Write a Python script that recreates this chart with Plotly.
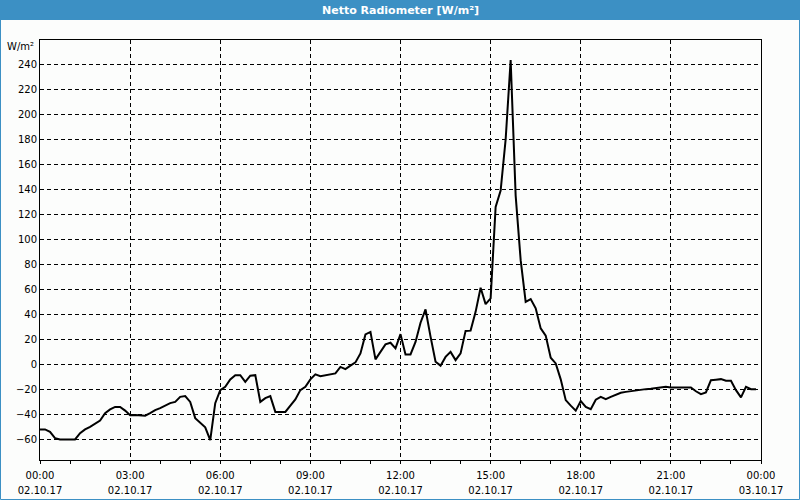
import plotly.graph_objects as go

# ---- data ----
day = "2017-10-02"
step_minutes = 10
values = [
    -52, -52, -54, -59, -60, -60, -60, -60, -55, -52,
    -50, -47.5, -45, -39, -36, -34, -34, -37, -40.6, -40.5,
    -41, -41, -39, -36.6, -35, -33, -31, -30, -26, -25.4,
    -30, -43, -47, -50.4, -60.6, -31, -20.6, -18, -12, -8.6,
    -8.6, -14, -9, -8.6, -30, -27, -25.4, -38, -38, -38,
    -33, -28, -20.6, -18, -12, -8, -9.4, -8.6, -8, -7.2,
    -2, -3.8, -1, 1.6, 8.8, 24, 26, 4, 10, 16,
    17.3, 12.8, 24.2, 8, 8, 18, 33.3, 44, 22.2, 2.1,
    -1, 6, 10, 3.4, 8.8, 26.8, 27, 42, 61.3, 48.2,
    52.8, 126, 139, 180, 243.4, 135, 83.4, 50, 52.2, 44.8,
    28.8, 23, 5.3, 0.8, -12, -28.6, -33, -37, -29.4, -34,
    -35.8, -28.3, -26, -27.8, -26, -24.5, -22.7, -22, -21.4, -20.8,
    -20, -19.8, -19.5, -19, -18.4, -17.9, -18.4, -18.4, -18.4, -17.9,
    -18.5, -21.5, -23.8, -22.4, -12.6, -12.2, -11.8, -13.1, -13.1, -20.6,
    -26.4, -17.9, -19.8, -19.8,
]
times = [f"{day} {(i*step_minutes)//60:02d}:{(i*step_minutes)%60:02d}" for i in range(len(values))]

tick_vals = ["2017-10-02 00:00", "2017-10-02 03:00", "2017-10-02 06:00", "2017-10-02 09:00",
             "2017-10-02 12:00", "2017-10-02 15:00", "2017-10-02 18:00", "2017-10-02 21:00",
             "2017-10-03 00:00"]
tick_time_text = ["00:00", "03:00", "06:00", "09:00", "12:00", "15:00", "18:00", "21:00", "00:00"]
tick_date_text = ["02.10.17", "02.10.17", "02.10.17", "02.10.17", "02.10.17",
                  "02.10.17", "02.10.17", "02.10.17", "03.10.17"]
y_ticks = list(range(-60, 241, 20))
x_range = ["2017-10-02 00:00", "2017-10-03 00:00"]

title_text = "Netto Radiometer [W/m²]"
unit_text = "W/m²"

# ---- figure ----
BLUE = "#3C90C4"
W, H = 800, 500
ML, MR, MT, MB = 40, 39, 40, 40
PW, PH = W - ML - MR, H - MT - MB

fig = go.Figure()
fig.add_trace(go.Scatter(x=times, y=values, mode="lines",
                         line=dict(color="black", width=2), hoverinfo="skip"))
# empty traces for the two label rows
for ax in ("x2", "x3"):
    fig.add_trace(go.Scatter(x=[x_range[0]], y=[None], xaxis=ax, mode="lines",
                             showlegend=False, hoverinfo="skip"))

font = dict(family="DejaVu Sans", size=10, color="black")

label_axis = dict(type="date", range=x_range, overlaying="x", side="bottom", anchor="y",
                  tickmode="array", tickvals=tick_vals, ticks="", automargin=False,
                  showgrid=False, showline=False, zeroline=False, tickfont=font)

fig.update_layout(
    width=W, height=H,
    margin=dict(l=ML, r=MR, t=MT, b=MB, pad=0, autoexpand=False),
    paper_bgcolor="#FCFDFC", plot_bgcolor="#FCFDFC",
    showlegend=False,
    font=font,
    xaxis=dict(
        type="date", range=x_range,
        tickmode="array", tickvals=tick_vals, showticklabels=False,
        ticks="outside", ticklen=3, tickcolor="black",
        automargin=False,
        showgrid=True, gridcolor="black", gridwidth=1, griddash="4px,3px",
        showline=True, linecolor="black", linewidth=1, mirror=True,
        zeroline=False,
        minor=dict(dtick=3600000, ticks="outside", ticklen=3, tickcolor="black", showgrid=False),
    ),
    xaxis2=dict(label_axis, ticktext=tick_time_text, ticklabelstandoff=8),
    xaxis3=dict(label_axis, ticktext=tick_date_text, ticklabelstandoff=23),
    yaxis=dict(
        range=[-76.5, 259.5],
        tickmode="array", tickvals=y_ticks, automargin=False,
        ticks="", showgrid=True, gridcolor="black", gridwidth=1, griddash="4px,3px",
        showline=True, linecolor="black", linewidth=1, mirror=True,
        zeroline=False,
        tickfont=font,
    ),
    shapes=[
        dict(type="rect", xref="paper", yref="paper",
             x0=-ML / PW, x1=1 + MR / PW, y0=1 + (MT - 20) / PH, y1=1 + MT / PH,
             fillcolor=BLUE, line=dict(width=0), layer="above"),
        dict(type="rect", xref="paper", yref="paper",
             x0=(-ML + 0.5) / PW, x1=1 + (MR - 0.5) / PW, y0=(-MB + 0.5) / PH, y1=1 + MT / PH,
             fillcolor="rgba(0,0,0,0)", line=dict(color=BLUE, width=1), layer="above"),
    ],
    annotations=[
        dict(text=f"<b>{title_text}</b>", xref="paper", yref="paper",
             x=(400 - ML) / PW, y=1 + (MT - 10) / PH, xanchor="center", yanchor="middle",
             showarrow=False, font=dict(family="DejaVu Sans", size=11, color="white")),
        dict(text=unit_text, xref="paper", yref="paper",
             x=-4 / PW, y=1 - 6.5 / PH, xanchor="right", yanchor="middle",
             showarrow=False, font=font),
    ],
)

fig.write_html("out.html")
